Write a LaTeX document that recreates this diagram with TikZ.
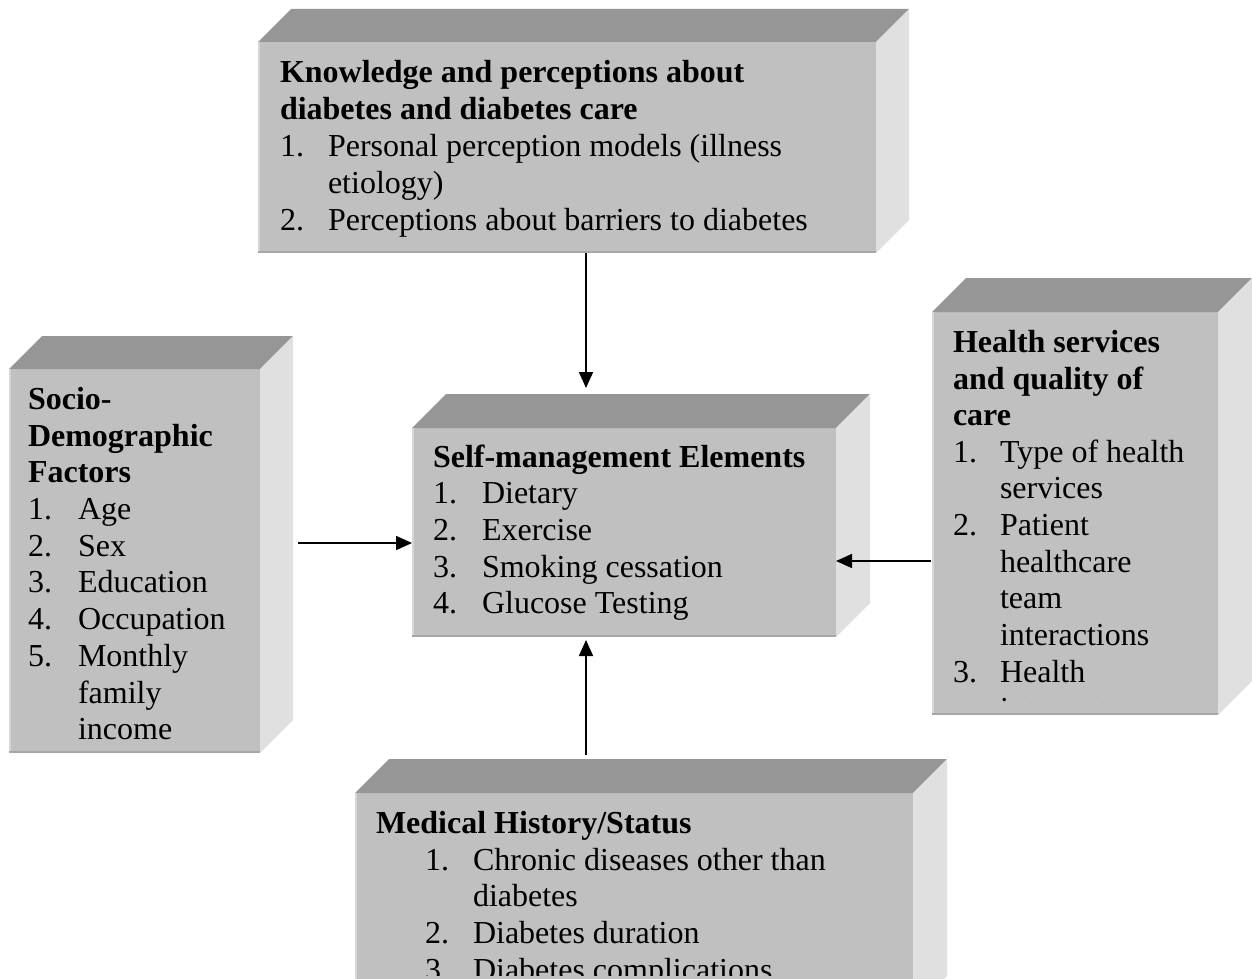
\documentclass[tikz,border=0pt]{standalone}
\usepackage{fontspec}
\setmainfont{Liberation Serif}
\usetikzlibrary{arrows.meta}
\definecolor{faceC}{HTML}{C0C0C0}
\definecolor{topC}{HTML}{969696}
\definecolor{sideC}{HTML}{E0E0E0}
\definecolor{lightE}{HTML}{D6D6D6}
\definecolor{darkE}{HTML}{A6A6A6}
\tikzset{
  face/.style={fill=faceC, draw=none, inner sep=0pt, outer sep=0pt},
  topface/.style={fill=topC},
  sideface/.style={fill=sideC},
  lightedge/.style={draw=lightE, line width=2pt},
  darkedge/.style={draw=darkE, line width=2pt},
  txt/.style={anchor=base west, inner sep=0pt, outer sep=0pt, font=\fontsize{32}{36.8}\selectfont},
  hd/.style={txt, font=\fontsize{32}{36.8}\selectfont\bfseries},
  arr/.style={line width=1.6pt, -{Triangle[length=16pt,width=14pt]}}
}
\newcommand\mycube[6]{%
  \node[face, anchor=north west, minimum width={(#4-#2)*1pt}, minimum height={(#5-#3)*1pt}] (#1) at (#2,#3) {};
  \fill[topface] (#2,#3) -- (#2+#6,#3-#6) -- (#4+#6,#3-#6) -- (#4,#3) -- cycle;
  \fill[sideface] (#4,#3) -- (#4+#6,#3-#6) -- (#4+#6,#5-#6) -- (#4,#5) -- cycle;
  \draw[lightedge] (#2+1,#3) -- (#2+1,#5);
  \draw[darkedge] (#2,#5-1) -- (#4,#5-1);
}
\begin{document}
\begin{tikzpicture}[x=1pt,y=-1pt]
\useasboundingbox (0,0) rectangle (1252,979);
\clip (0,0) rectangle (1252,979);

% boxes
\mycube{top}{258}{42}{876}{253}{33}
\mycube{cen}{412}{428}{836}{637}{34}
\mycube{soc}{9}{369}{260}{753}{33}
\mycube{hs}{932}{312}{1218}{715}{34}
\mycube{med}{355}{793}{913}{1010}{34}

% top box text
\node[hd] (k1) at (280,83) {Knowledge and perceptions about};
\node[hd] (k2) at (280,120) {diabetes and diabetes care};
\node[txt] (k3n) at (280,157) {1.};
\node[txt] (k3) at (328,157) {Personal perception models (illness};
\node[txt] (k4) at (328,193) {etiology)};
\node[txt] (k5n) at (280,230) {2.};
\node[txt] (k5) at (328,230) {Perceptions about barriers to diabetes};

% central box text
\node[hd] (s1) at (433,467) {Self-management Elements};
\node[txt] (s2n) at (433,503) {1.};
\node[txt] (s2) at (482,503) {Dietary};
\node[txt] (s3n) at (433,540) {2.};
\node[txt] (s3) at (482,540) {Exercise};
\node[txt] (s4n) at (433,577) {3.};
\node[txt] (s4) at (482,577) {Smoking cessation};
\node[txt] (s5n) at (433,613) {4.};
\node[txt] (s5) at (482,613) {Glucose Testing};

% left box text
\node[hd] (d1) at (28,409) {Socio-};
\node[hd] (d2) at (28,446) {Demographic};
\node[hd] (d3) at (28,482) {Factors};
\node[txt] (d4n) at (28,519) {1.};
\node[txt] (d4) at (78,519) {Age};
\node[txt] (d5n) at (28,556) {2.};
\node[txt] (d5) at (78,556) {Sex};
\node[txt] (d6n) at (28,592) {3.};
\node[txt] (d6) at (78,592) {Education};
\node[txt] (d7n) at (28,629) {4.};
\node[txt] (d7) at (78,629) {Occupation};
\node[txt] (d8n) at (28,666) {5.};
\node[txt] (d8) at (78,666) {Monthly};
\node[txt] (d9) at (78,703) {family};
\node[txt] (d10) at (78,739) {income};

% right box text
\begin{scope}
\clip (932,312) rectangle (1218,703);
\node[hd] (h1) at (953,352) {Health services};
\node[hd] (h2) at (953,389) {and quality of};
\node[hd] (h3) at (953,425) {care};
\node[txt] (h4n) at (953,462) {1.};
\node[txt] (h4) at (1000,462) {Type of health};
\node[txt] (h5) at (1000,498) {services};
\node[txt] (h6n) at (953,535) {2.};
\node[txt] (h6) at (1000,535) {Patient};
\node[txt] (h7) at (1000,572) {healthcare};
\node[txt] (h8) at (1000,608) {team};
\node[txt] (h9) at (1000,645) {interactions};
\node[txt] (h10n) at (953,682) {3.};
\node[txt] (h10) at (1000,682) {Health};
\node[txt] (h11) at (1000,719) {insurance};
\end{scope}

% bottom box text
\begin{scope}
\clip (355,793) rectangle (913,975);
\node[hd] (m1) at (376,833) {Medical History/Status};
\node[txt] (m2n) at (425,870) {1.};
\node[txt] (m2) at (473,870) {Chronic diseases other than};
\node[txt] (m3) at (473,906) {diabetes};
\node[txt] (m4n) at (425,943) {2.};
\node[txt] (m4) at (473,943) {Diabetes duration};
\node[txt] (m5n) at (425,980) {3.};
\node[txt] (m5) at (473,980) {Diabetes complications};
\end{scope}

% connectors
\coordinate (tA) at (586,388);
\draw[arr] (top.south -| tA) -- (tA);
\coordinate (lS) at (298,543);
\draw[arr] (lS) -- (lS -| cen.west);
\coordinate (rA) at (931,561);
\draw[arr] (rA) -- (rA -| cen.east);
\coordinate (bS) at (586,755);
\coordinate (bA) at (586,640);
\draw[arr] (bS) -- (bA);
\end{tikzpicture}
\end{document}
